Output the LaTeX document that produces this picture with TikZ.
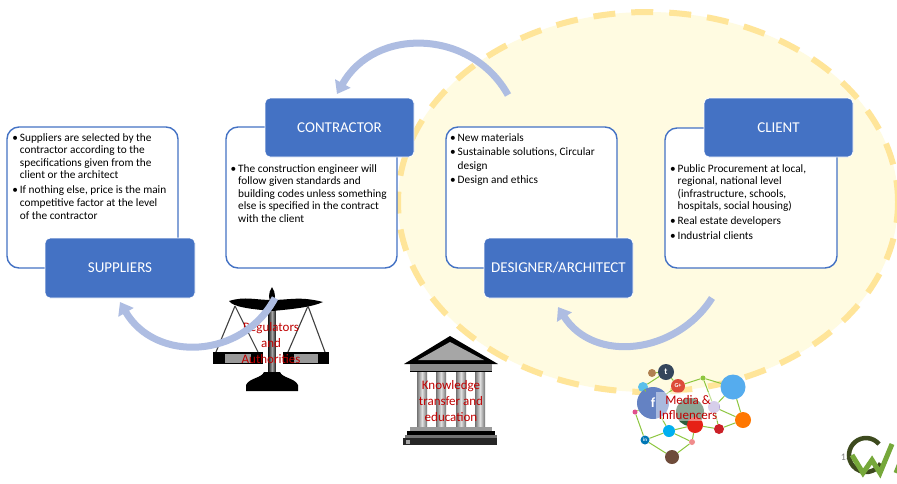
\documentclass[tikz,border=0pt]{standalone}
\usepackage{fontspec}
\setmainfont{Carlito}
\usetikzlibrary{arrows.meta}

\definecolor{hdrblue}{HTML}{4472C4}
\definecolor{flowarrow}{HTML}{AEBDE2}
\definecolor{zonefill}{HTML}{FFFBE1}
\definecolor{zonedash}{HTML}{FFE599}
\definecolor{labelred}{HTML}{C00000}
\definecolor{netgreen}{HTML}{8DC63F}
\definecolor{logodark}{HTML}{3D4A1E}
\definecolor{logogreen}{HTML}{76A83A}

\newcommand{\bulletmark}{\makebox[7.5pt][l]{\textbullet}}
\newcommand{\hangsp}{\hspace*{7.5pt}}

\tikzset{
  infobox/.style={draw=hdrblue, line width=1.4pt, fill=white, rounded corners=12pt, inner sep=0pt},
  header/.style={fill=hdrblue, draw=white, line width=0.8pt, rounded corners=5pt, text=white,
    font=\fontsize{15}{16}\selectfont, minimum width=149pt, minimum height=59pt, inner sep=0pt},
  bodytext/.style={anchor=north west, align=left, inner sep=0pt, font=\fontsize{11.3}{12.6}\selectfont},
  flow/.style={draw=flowarrow, line width=7pt, -{Triangle[width=17pt,length=12pt]}},
  redlabel/.style={text=labelred, align=center, inner sep=0pt, font=\fontsize{13}{16}\selectfont},
  netdot/.style={circle, inner sep=0pt, minimum size=#1},
  netlink/.style={draw=netgreen, line width=1pt},
  iconglyph/.style={text=white, inner sep=0pt, font=\fontsize{#1}{#1}\selectfont\bfseries}
}

\begin{document}
\begin{tikzpicture}[x=1pt, y=1pt]
\useasboundingbox (0,0) rectangle (897,-483);
\clip (0,0) rectangle (897,-483);
\fill[white] (0,0) rectangle (897,-483);

% design zone
\fill[zonefill] (648,-202) ellipse [x radius=250pt, y radius=190pt];
\draw[zonedash, line width=6pt, dash pattern=on 22pt off 16pt] (648,-202) ellipse [x radius=250pt, y radius=190pt];

% information boxes
\node[infobox, minimum width=171pt, minimum height=141pt] (supbox) at (92.5,-197.5) {};
\node[infobox, minimum width=171pt, minimum height=141pt] (conbox) at (311.5,-197.5) {};
\node[infobox, minimum width=171pt, minimum height=141pt] (desbox) at (531.5,-197.5) {};
\node[infobox, minimum width=172pt, minimum height=140pt] (clibox) at (751,-198) {};

% role headers
\node[header, minimum width=150pt, minimum height=60pt] (suppliers) at (120,-268) {SUPPLIERS};
\node[header] (contractor) at (339.5,-127.5) {CONTRACTOR};
\node[header, minimum height=60pt] (designer) at (558.5,-268) {DESIGNER/ARCHITECT};
\node[header] (client) at (778.5,-127.5) {CLIENT};

% box texts
\node[bodytext] (suptext) at (12.2,-133) {%
\bulletmark Suppliers are selected by the\\
\hangsp contractor according to the\\
\hangsp specifications given from the\\
\hangsp client or the architect\\[2.4pt]
\bulletmark If nothing else, price is the main\\
\hangsp competitive factor at the level\\
\hangsp of the contractor};

\node[bodytext] (context) at (230.5,-164) {%
\bulletmark The construction engineer will\\
\hangsp follow given standards and\\
\hangsp building codes unless something\\
\hangsp else is specified in the contract\\
\hangsp with the client};

\node[bodytext, font=\fontsize{11.3}{14}\selectfont] (destext) at (450,-133) {%
\bulletmark New materials\\
\bulletmark Sustainable solutions, Circular\\
\hangsp design\\
\bulletmark Design and ethics};

\node[bodytext] (clitext) at (670,-164) {%
\bulletmark Public Procurement at local,\\
\hangsp regional, national level\\
\hangsp (infrastructure, schools,\\
\hangsp hospitals, social housing)\\[2pt]
\bulletmark Real estate developers\\[2pt]
\bulletmark Industrial clients};

% balance scale
\shade[left color=black!85, right color=black!85, middle color=black!35] (268.5,-300) rectangle (275.5,-378);
\fill[black] (272,-287) .. controls (276,-293) and (276,-300) .. (272,-304) .. controls (268,-300) and (268,-293) .. (272,-287) -- cycle;
\fill[black] (272,-300) .. controls (255,-300) and (245,-296) .. (229,-301)
  .. controls (233,-307) and (250,-309) .. (272,-311)
  .. controls (294,-309) and (312,-307) .. (323,-302)
  .. controls (300,-296) and (289,-300) .. (272,-300) -- cycle;
\draw[black!75, line width=1.1pt] (235,-306) -- (216,-352) (235,-306) -- (258,-352);
\draw[black!75, line width=1.1pt] (308,-306) -- (288,-352) (308,-306) -- (325,-352);
\fill[black] (213,-352) rectangle (263,-364);
\fill[black!40] (225,-353.5) rectangle (251,-362.5);
\fill[black] (283,-352) rectangle (329,-364);
\fill[black!40] (294,-353.5) rectangle (318,-362.5);
\fill[black] (246,-391) -- (246,-385) .. controls (249,-378) and (262,-378) .. (264,-372)
  -- (280,-372) .. controls (282,-378) and (295,-378) .. (298,-385) -- (298,-391) -- cycle;
\node[redlabel] (reglab) at (271,-343) {Regulators\\and\\Authorities};

% temple
\fill[black] (404,-364) -- (450,-336) -- (498,-364) -- cycle;
\fill[black!35] (418,-360) -- (450,-342) -- (484,-360) -- cycle;
\fill[black!45] (410,-364) rectangle (492,-371);
\draw[black, line width=0.8pt] (410,-371) -- (492,-371);
\foreach \cx in {422,441,461,480}{
  \shade[left color=black!55, right color=black!55, middle color=black!12] (\cx-5,-372) rectangle (\cx+5,-427);
}
\fill[black!40] (410,-427) rectangle (492,-431);
\fill[black] (407,-431) rectangle (495,-435);
\fill[black!55] (405,-435) rectangle (497,-438);
\fill[black!85] (403,-438) rectangle (497,-445);
\fill[black!35] (406,-439.5) rectangle (410,-443.5);
\node[redlabel] (knowlab) at (451,-401) {Knowledge\\transfer and\\education};

% media network
\node[netdot=28pt, fill={rgb,255:red,46;green,94;blue,62}] (nglobe) at (690,-412) {};
\node[netdot=5pt, fill=netgreen] (ngra) at (703,-378) {};
\node[netdot=5pt, fill={rgb,255:red,224;green,80;blue,140}] (npka) at (635,-412) {};
\node[netdot=6pt, fill={rgb,255:red,240;green,140;blue,140}] (npkb) at (692,-442) {};
\node[netdot=16pt, fill={rgb,255:red,53;green,70;blue,92}] (ntum) at (666,-372) {};
\node[netdot=14pt, fill={rgb,255:red,221;green,75;blue,57}] (ngp) at (678,-386) {};
\node[netdot=10pt, fill={rgb,255:red,91;green,192;blue,235}] (nvim) at (643,-387) {};
\node[netdot=8pt, fill={rgb,255:red,176;green,128;blue,80}] (nsm) at (652,-373) {};
\node[netdot=32pt, fill={rgb,255:red,100;green,130;blue,195}] (nfb) at (653,-403) {};
\node[netdot=25pt, fill={rgb,255:red,85;green,172;blue,238}] (ntw) at (733,-387) {};
\node[netdot=16pt, fill={rgb,255:red,255;green,119;blue,0}] (nsc) at (743,-420) {};
\node[netdot=10pt, fill={rgb,255:red,203;green,32;blue,39}] (npin) at (719,-429) {};
\node[netdot=16pt, fill={rgb,255:red,230;green,33;blue,23}] (nyt) at (695,-425) {};
\node[netdot=12pt, fill={rgb,255:red,182;green,166;blue,218}] (npur) at (714,-407) {};
\node[netdot=12pt, fill={rgb,255:red,0;green,175;blue,240}] (nsky) at (669,-431) {};
\node[netdot=9pt, fill={rgb,255:red,0;green,119;blue,181}] (nlin) at (645,-440) {};
\node[netdot=14pt, fill={rgb,255:red,110;green,75;blue,58}] (nins) at (672,-457) {};
\foreach \a/\b in {ntum/ngp, ngp/ngra, ngra/ntw, ntw/nsc, nsc/npin, npin/nyt, nyt/npkb, npkb/nins,
  nins/nlin, nlin/nsky, nsky/nfb, nfb/npka, npka/nlin, nfb/ngp, nvim/ntum, nvim/nfb, nsm/ntum,
  npur/ntw, npur/npin, nsky/nyt, ngra/npur, npkb/nsky, nsc/npur}
  \draw[netlink] (\a) -- (\b);
\node[iconglyph=14] at (nfb) {f};
\node[iconglyph=9] at (ntum) {t};
\node[iconglyph=6] at (ngp) {G+};
\node[iconglyph=5] at (nlin) {in};
\fill[white, opacity=0.45] (656,-392) rectangle (719,-421);
\node[redlabel, font=\fontsize{13}{15}\selectfont] (medialab) at (688,-407.5) {Media \&\\Influencers};

% page number and logo
\node[text=black!50, inner sep=0pt, font=\fontsize{10}{12}\selectfont] (pgnum) at (846,-457) {13};
\draw[logodark, line width=4.5pt] (866,-455) ++(40:17pt) arc[start angle=40, end angle=330, radius=17pt];
\draw[logogreen, line width=5pt, line join=miter] (852,-455) -- (863,-473) -- (872,-460) -- (880,-473) -- (892,-444);
\draw[logogreen, line width=5pt] (896,-473) -- (902,-458);

% flow arrows
\coordinate (aonestart) at (508,-95);
\coordinate (aoneend) at (337,-94);
\coordinate (atwostart) at (712,-298);
\coordinate (atwoend) at (558,-307);
\coordinate (athreestart) at (275,-298);
\coordinate (athreeend) at (120,-302);
\draw[flow] (aonestart) to[out=119, in=61, looseness=1.14] (aoneend);
\draw[flow] (atwostart) to[out=-122.5, in=-57.5, looseness=1.11] (atwoend);
\draw[flow] (athreestart) to[out=-118, in=-60, looseness=1.15] (athreeend);
\end{tikzpicture}
\end{document}
